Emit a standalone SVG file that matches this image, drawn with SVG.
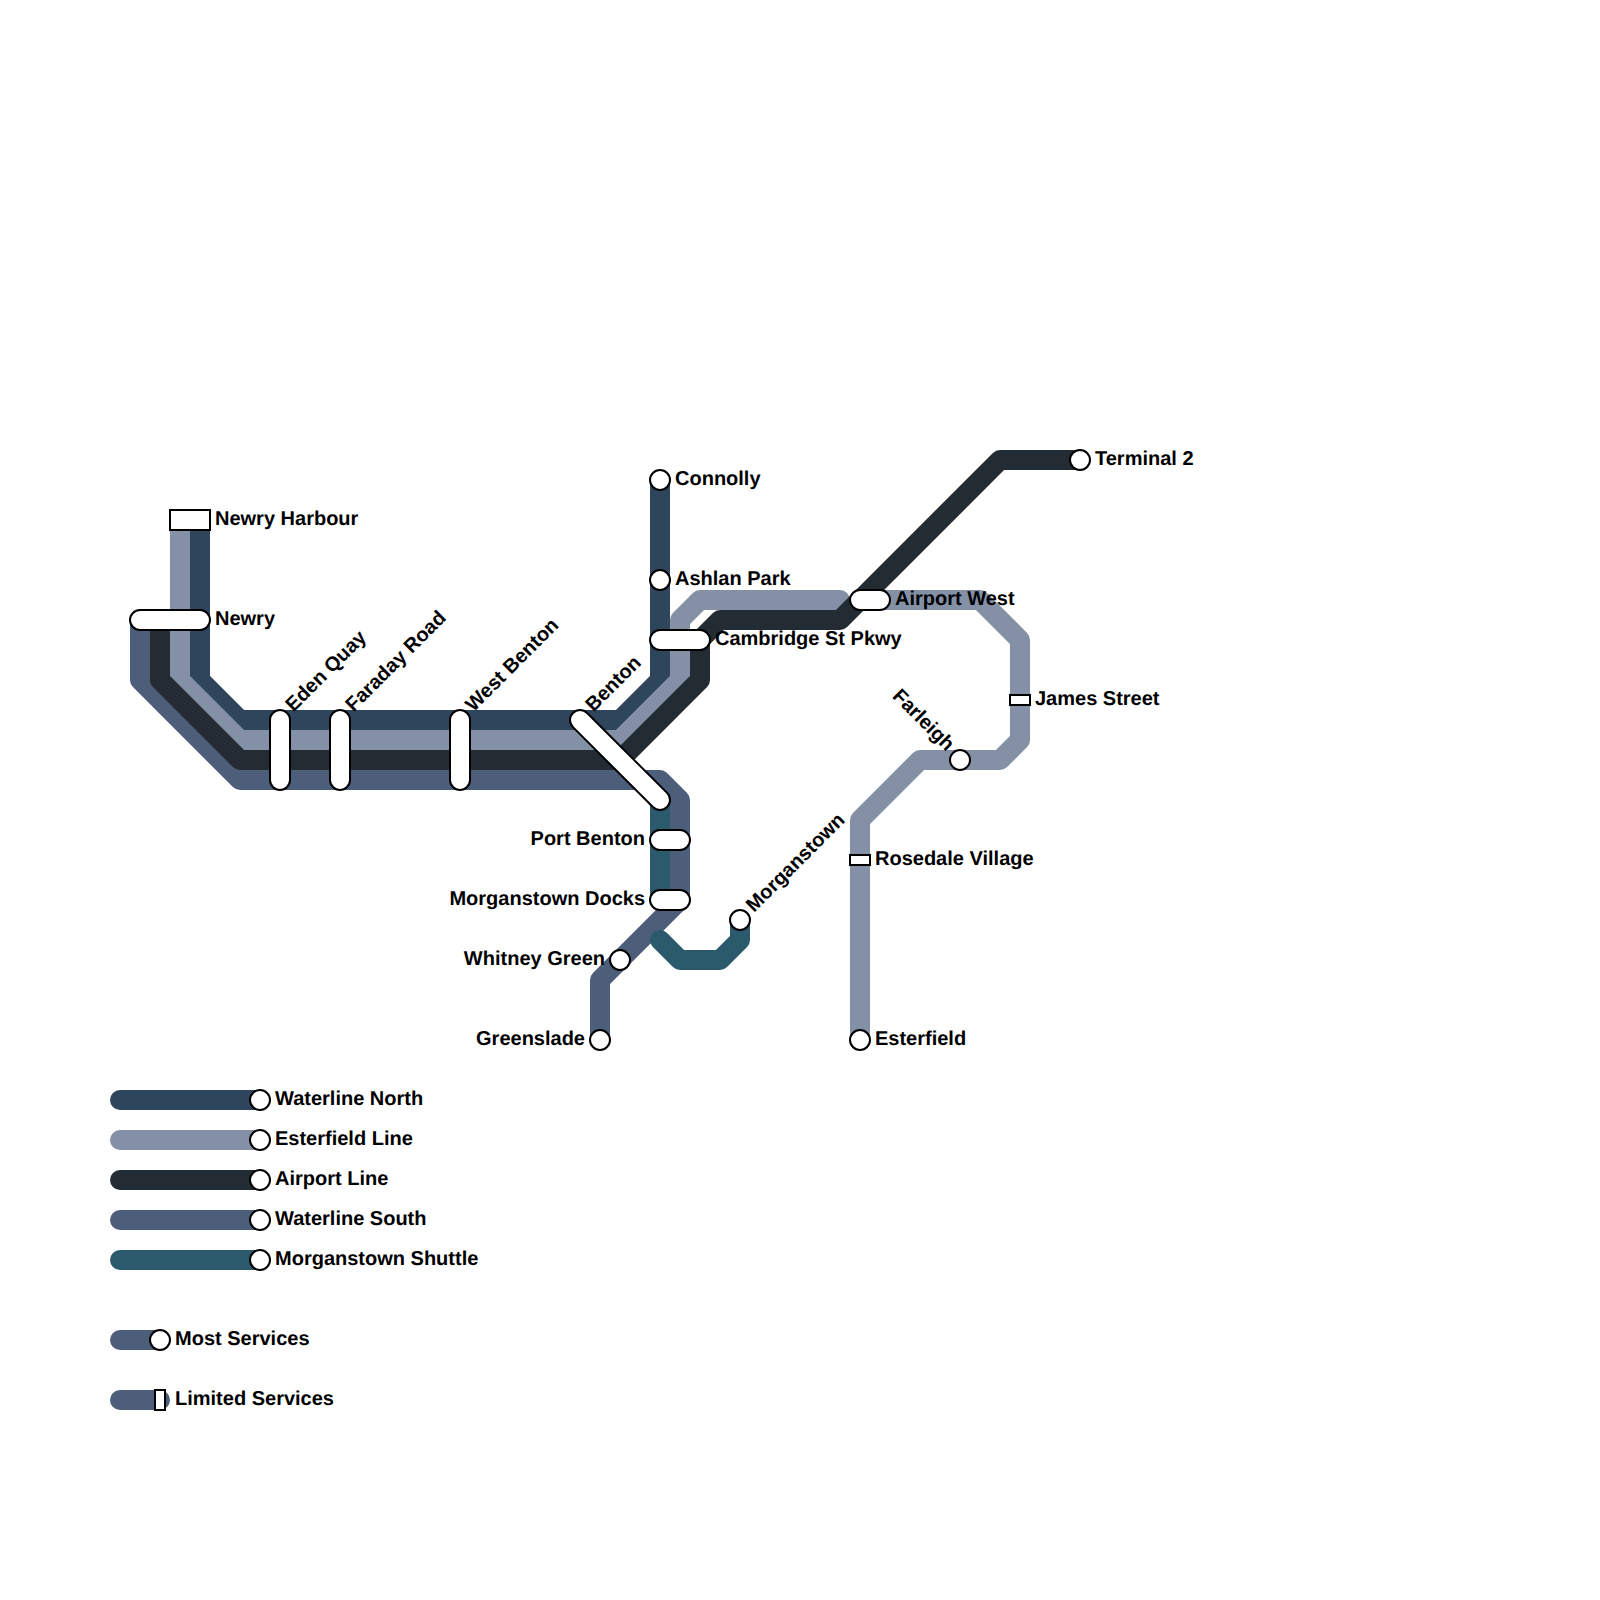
<svg xmlns="http://www.w3.org/2000/svg" width="1600" height="1600" viewBox="0 0 1600 1600">
<style>
.l{fill:none;stroke-width:20;stroke-linejoin:round;stroke-linecap:round}
.n{stroke:#2e455b}.e{stroke:#8490a6}.a{stroke:#232b33}.s{stroke:#4d5e7a}.m{stroke:#2a5a6c}
.st{fill:#fff;stroke:#000;stroke-width:2}
text{font-family:"Liberation Sans",Arial,sans-serif;font-size:20px;font-weight:700;fill:#000;text-rendering:geometricPrecision}
.r{text-anchor:end}
</style>
<rect width="1600" height="1600" fill="#fff"/>
<g id="connectors">
<path class="l m" d="M660 800V900"/>
<path class="l s" d="M140 620V680L240 780H660L680 800V900L600 980V1040"/>
<path class="l m" d="M660 940L680 960H720L740 940V920"/>
<path class="l n" d="M660 480V680L620 720H240L200 680V520"/>
<path class="l e" d="M180 520V680L240 740H620L680 680V620L700 600H840"/>
<path class="l e" d="M860 600H980L1020 640V740L1000 760H920L860 820V1040"/>
<path class="l a" d="M160 620V680L240 760H620L700 680V640L720 620H840L1000 460H1080"/>
<path class="l n" d="M120 1100H260"/>
<path class="l e" d="M120 1140H260"/>
<path class="l a" d="M120 1180H260"/>
<path class="l s" d="M120 1220H260"/>
<path class="l m" d="M120 1260H260"/>
<path class="l s" d="M120 1340H160"/>
<path class="l s" d="M120 1400H160"/>
</g>
<g id="newry-harbour"><rect class="st" x="170" y="510" width="40" height="20"/><text x="215" y="524.5">Newry Harbour</text></g>
<g id="newry"><rect class="st" x="130" y="610" width="80" height="20" rx="10"/><text x="215" y="624.5">Newry</text></g>
<g id="eden-quay"><rect class="st" x="270" y="710" width="20" height="80" rx="10"/><text transform="translate(293.5 712.5) rotate(-45)">Eden Quay</text></g>
<g id="faraday-road"><rect class="st" x="330" y="710" width="20" height="80" rx="10"/><text transform="translate(353.5 712.5) rotate(-45)">Faraday Road</text></g>
<g id="west-benton"><rect class="st" x="450" y="710" width="20" height="80" rx="10"/><text transform="translate(473.5 712.5) rotate(-45)">West Benton</text></g>
<g id="benton"><rect class="st" x="553.45" y="750" width="133.1" height="20" rx="10" transform="rotate(45 620 760)"/><text transform="translate(593.5 712.5) rotate(-45)">Benton</text></g>
<g id="connolly"><circle class="st" cx="660" cy="480" r="10"/><text x="675" y="484.5">Connolly</text></g>
<g id="ashlan-park"><circle class="st" cx="660" cy="580" r="10"/><text x="675" y="584.5">Ashlan Park</text></g>
<g id="cambridge"><rect class="st" x="650" y="630" width="60" height="20" rx="10"/><text x="715" y="644.5">Cambridge St Pkwy</text></g>
<g id="airport-west"><rect class="st" x="850" y="590" width="40" height="20" rx="10"/><text x="895" y="604.5">Airport West</text></g>
<g id="terminal-2"><circle class="st" cx="1080" cy="460" r="10"/><text x="1095" y="464.5">Terminal 2</text></g>
<g id="james-street"><rect class="st" x="1010" y="695" width="20" height="10"/><text x="1035" y="704.5">James Street</text></g>
<g id="farleigh"><circle class="st" cx="960" cy="760" r="10"/><text class="r" transform="translate(946.5 752) rotate(45)">Farleigh</text></g>
<g id="rosedale-village"><rect class="st" x="850" y="855" width="20" height="10"/><text x="875" y="864.5">Rosedale Village</text></g>
<g id="esterfield"><circle class="st" cx="860" cy="1040" r="10"/><text x="875" y="1044.5">Esterfield</text></g>
<g id="port-benton"><rect class="st" x="650" y="830" width="40" height="20" rx="10"/><text class="r" x="645" y="844.5">Port Benton</text></g>
<g id="morganstown-docks"><rect class="st" x="650" y="890" width="40" height="20" rx="10"/><text class="r" x="645" y="904.5">Morganstown Docks</text></g>
<g id="whitney-green"><circle class="st" cx="620" cy="960" r="10"/><text class="r" x="605" y="964.5">Whitney Green</text></g>
<g id="greenslade"><circle class="st" cx="600" cy="1040" r="10"/><text class="r" x="585" y="1044.5">Greenslade</text></g>
<g id="morganstown"><circle class="st" cx="740" cy="920" r="10"/><text transform="translate(754 913) rotate(-45)">Morganstown</text></g>
<g id="legend-waterline-north"><circle class="st" cx="260" cy="1100" r="10"/><text x="275" y="1104.5">Waterline North</text></g>
<g id="legend-esterfield"><circle class="st" cx="260" cy="1140" r="10"/><text x="275" y="1144.5">Esterfield Line</text></g>
<g id="legend-airport"><circle class="st" cx="260" cy="1180" r="10"/><text x="275" y="1184.5">Airport Line</text></g>
<g id="legend-waterline-south"><circle class="st" cx="260" cy="1220" r="10"/><text x="275" y="1224.5">Waterline South</text></g>
<g id="legend-shuttle"><circle class="st" cx="260" cy="1260" r="10"/><text x="275" y="1264.5">Morganstown Shuttle</text></g>
<g id="legend-most"><circle class="st" cx="160" cy="1340" r="10"/><text x="175" y="1344.5">Most Services</text></g>
<g id="legend-limited"><rect class="st" x="155" y="1390" width="10" height="20"/><text x="175" y="1404.5">Limited Services</text></g>
</svg>
